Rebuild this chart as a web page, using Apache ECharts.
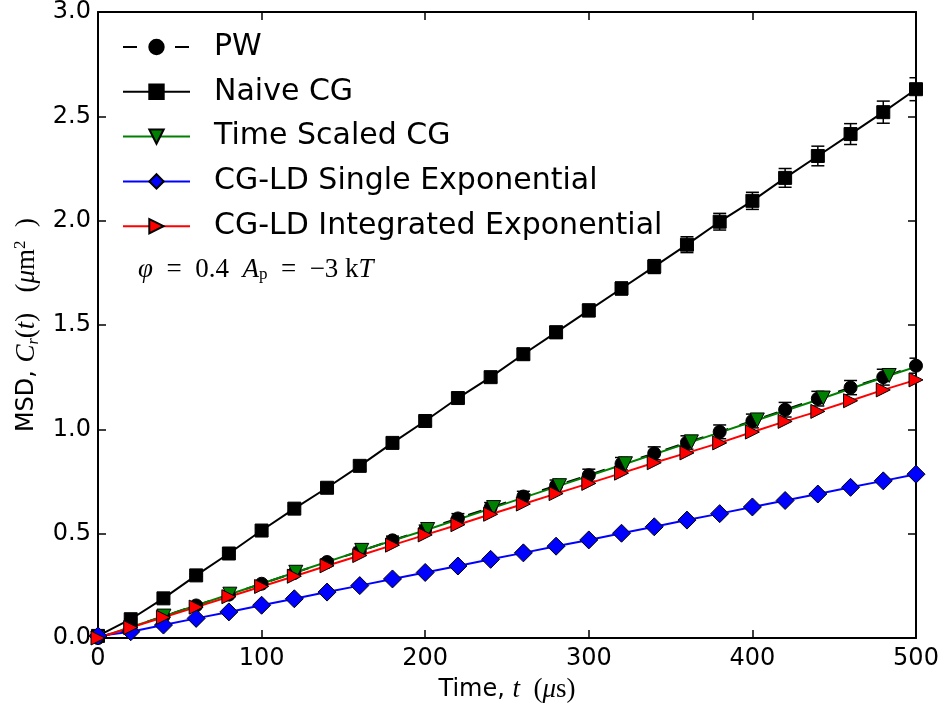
<!DOCTYPE html>
<html>
<head>
<meta charset="utf-8">
<script src="https://cdn.jsdelivr.net/npm/echarts@6/dist/echarts.min.js"></script>
<style>
html,body{margin:0;padding:0;background:#fff;}
#chart{width:949px;height:710px;}
</style>
</head>
<body>
<div id="chart"></div>
<script>
// ---- data ----
const tValues = [0,20,40,60,80,100,120,140,160,180,200,220,240,260,280,300,320,340,360,380,400,420,440,460,480,500];

const pwMSD = [0.0,0.052,0.104,0.156,0.208,0.26,0.312,0.364,0.416,0.468,0.52,0.573,0.625,0.678,0.73,0.78,0.835,0.885,0.937,0.988,1.04,1.094,1.147,1.2,1.25,1.305];
const pwErr = [0.0,0.004,0.006,0.008,0.01,0.012,0.014,0.016,0.018,0.02,0.021,0.023,0.024,0.025,0.027,0.029,0.03,0.031,0.032,0.033,0.033,0.035,0.035,0.034,0.038,0.036];

const naiveMSD = [0.01,0.09,0.19,0.30,0.405,0.515,0.62,0.72,0.825,0.935,1.04,1.15,1.25,1.36,1.465,1.57,1.675,1.78,1.885,1.995,2.095,2.205,2.31,2.415,2.52,2.63];
const naiveErr = [0.0,0.003,0.005,0.007,0.009,0.011,0.013,0.015,0.017,0.019,0.021,0.023,0.025,0.027,0.029,0.03,0.031,0.033,0.038,0.04,0.041,0.045,0.047,0.05,0.053,0.055];

const tScaled = [0,40.3,80.6,120.9,161.2,201.5,241.8,282.1,322.4,362.7,403,443.3,483.6,523.9];
const scaledMSD = [0.0,0.105,0.21,0.315,0.42,0.52,0.625,0.73,0.835,0.94,1.045,1.15,1.258,1.36];

const singleExpMSD = [0.01,0.03,0.062,0.094,0.125,0.157,0.188,0.22,0.251,0.283,0.314,0.345,0.377,0.408,0.44,0.47,0.502,0.533,0.565,0.596,0.628,0.659,0.69,0.722,0.753,0.785];

const intExpMSD = [0.0,0.05,0.099,0.148,0.198,0.247,0.296,0.346,0.395,0.445,0.494,0.543,0.593,0.642,0.692,0.741,0.79,0.84,0.887,0.935,0.987,1.038,1.086,1.137,1.189,1.237];

const xTicks = {min:0, max:500, interval:100};
const yTicks = {min:0, max:3, interval:0.5};

const seriesNames = ['PW','Naive CG','Time Scaled CG','CG-LD Single Exponential','CG-LD Integrated Exponential'];

// ---- build ----
const pairs = (xs, ys) => xs.map((x,i)=>[x, ys[i]]);
const triples = (xs, ys, es) => xs.map((x,i)=>[x, ys[i], es[i]]);

function errRender(params, api){
  const x = api.value(0), y = api.value(1), e = api.value(2);
  const top = api.coord([x, y+e]);
  const bot = api.coord([x, y-e]);
  const hw = 6.5;
  const st = {stroke:'#000', lineWidth:1.5};
  return {type:'group', children:[
    {type:'line', shape:{x1:top[0],y1:top[1],x2:bot[0],y2:bot[1]}, style:st},
    {type:'line', shape:{x1:top[0]-hw,y1:top[1],x2:top[0]+hw,y2:top[1]}, style:st},
    {type:'line', shape:{x1:bot[0]-hw,y1:bot[1],x2:bot[0]+hw,y2:bot[1]}, style:st}
  ]};
}

const SANS = 'DejaVu Sans';
const SERIF = 'Liberation Serif';

const chart = echarts.init(document.getElementById('chart'), null, {renderer:'canvas'});

const axisLineStyle = {color:'#000', width:2};
const tickStyle = {show:true, inside:true, length:8, lineStyle:{color:'#000', width:1.5}};

const mathRich = {
  a:{fontFamily:SANS,fontSize:24,color:'#000'},
  i:{fontFamily:SERIF,fontStyle:'italic',fontSize:27,color:'#000'},
  r:{fontFamily:SERIF,fontSize:27,color:'#000'},
  sub:{fontFamily:SERIF,fontStyle:'italic',fontSize:16,color:'#000',verticalAlign:'bottom'},
  sup:{fontFamily:SERIF,fontSize:17,color:'#000',verticalAlign:'top'}
};

const option = {
  animation:false,
  backgroundColor:'#fff',
  grid:{left:98, right:33, top:8, bottom:72, containLabel:false},
  legend:{
    data:seriesNames,
    orient:'vertical',
    left:122, top:32, padding:0,
    itemWidth:67, itemHeight:18, itemGap:14.8,
    selectedMode:false,
    textStyle:{fontFamily:SANS, fontSize:30, color:'#000', lineHeight:30, padding:[0,0,0,19]}
  },
  xAxis:[{
    type:'value', min:xTicks.min, max:xTicks.max, interval:xTicks.interval,
    position:'bottom',
    axisLine:{show:true, onZero:false, lineStyle:axisLineStyle},
    axisTick:tickStyle,
    splitLine:{show:false},
    axisLabel:{fontFamily:SANS, fontSize:24, color:'#000', margin:9},
    name:'{a|Time, }{i|t}{r|  (}{i|μ}{r|s)}',
    nameLocation:'middle', nameGap:35,
    nameTextStyle:{fontFamily:SANS, fontSize:24, color:'#000', lineHeight:28, rich:mathRich}
  },{
    type:'value', min:xTicks.min, max:xTicks.max, interval:xTicks.interval,
    position:'top',
    axisLine:{show:true, onZero:false, lineStyle:axisLineStyle},
    axisTick:tickStyle, axisLabel:{show:false}, splitLine:{show:false}
  }],
  yAxis:[{
    type:'value', min:yTicks.min, max:yTicks.max, interval:yTicks.interval,
    position:'left',
    axisLine:{show:true, onZero:false, lineStyle:axisLineStyle},
    axisTick:tickStyle,
    splitLine:{show:false},
    axisLabel:{fontFamily:SANS, fontSize:24, color:'#000', margin:7, formatter:v=>v.toFixed(1)},
    name:'{a|MSD, }{i|C}{sub|r}{r|(}{i|t}{r|)   (}{i|μ}{r|m}{sup|2}{r|  )}',
    nameLocation:'middle', nameGap:54, nameRotate:90,
    nameTextStyle:{fontFamily:SANS, fontSize:24, color:'#000', lineHeight:30, rich:mathRich}
  },{
    type:'value', min:yTicks.min, max:yTicks.max, interval:yTicks.interval,
    position:'right',
    axisLine:{show:true, onZero:false, lineStyle:axisLineStyle},
    axisTick:tickStyle, axisLabel:{show:false}, splitLine:{show:false}
  }],
  graphic:[{
    type:'text', left:138, top:256,
    style:{
      text:'{i|φ}{r|  =  0.4  }{i|A}{s|p}{r|  =  −3 k}{i|T}',
      rich:{
        i:{fontFamily:SERIF,fontStyle:'italic',fontSize:27,fill:'#000',color:'#000'},
        r:{fontFamily:SERIF,fontSize:27,fill:'#000',color:'#000'},
        s:{fontFamily:SERIF,fontSize:17,fill:'#000',color:'#000',verticalAlign:'bottom'}
      }
    }
  }],
  series:[
    {type:'custom', name:'pwErr', renderItem:errRender, data:triples(tValues,pwMSD,pwErr), encode:{x:0,y:1}, clip:true, z:2, silent:true},
    {type:'line', name:'PW', data:pairs(tValues,pwMSD), symbol:'circle', symbolSize:13,
      lineStyle:{color:'#000', width:2, type:[14,12]}, itemStyle:{color:'#000', borderColor:'#000', borderWidth:1}, z:2},
    {type:'custom', name:'naiveErr', renderItem:errRender, data:triples(tValues,naiveMSD,naiveErr), encode:{x:0,y:1}, clip:true, z:2, silent:true},
    {type:'line', name:'Naive CG', data:pairs(tValues,naiveMSD), symbol:'rect', symbolSize:13,
      lineStyle:{color:'#000', width:2}, itemStyle:{color:'#000', borderColor:'#000', borderWidth:1}, z:2},
    {type:'line', name:'Time Scaled CG', data:pairs(tScaled,scaledMSD), symbol:'triangle', symbolSize:14, symbolRotate:180,
      lineStyle:{color:'#008000', width:2}, itemStyle:{color:'#008000', borderColor:'#000', borderWidth:1}, z:2},
    {type:'line', name:'CG-LD Single Exponential', data:pairs(tValues,singleExpMSD), symbol:'diamond', symbolSize:18,
      lineStyle:{color:'#0000ff', width:2}, itemStyle:{color:'#0000ff', borderColor:'#000', borderWidth:1}, z:2},
    {type:'line', name:'CG-LD Integrated Exponential', data:pairs(tValues,intExpMSD), symbol:'triangle', symbolSize:14, symbolRotate:-90,
      lineStyle:{color:'#ff0000', width:2}, itemStyle:{color:'#ff0000', borderColor:'#000', borderWidth:1}, z:2}
  ]
};
chart.setOption(option);
</script>
</body>
</html>
